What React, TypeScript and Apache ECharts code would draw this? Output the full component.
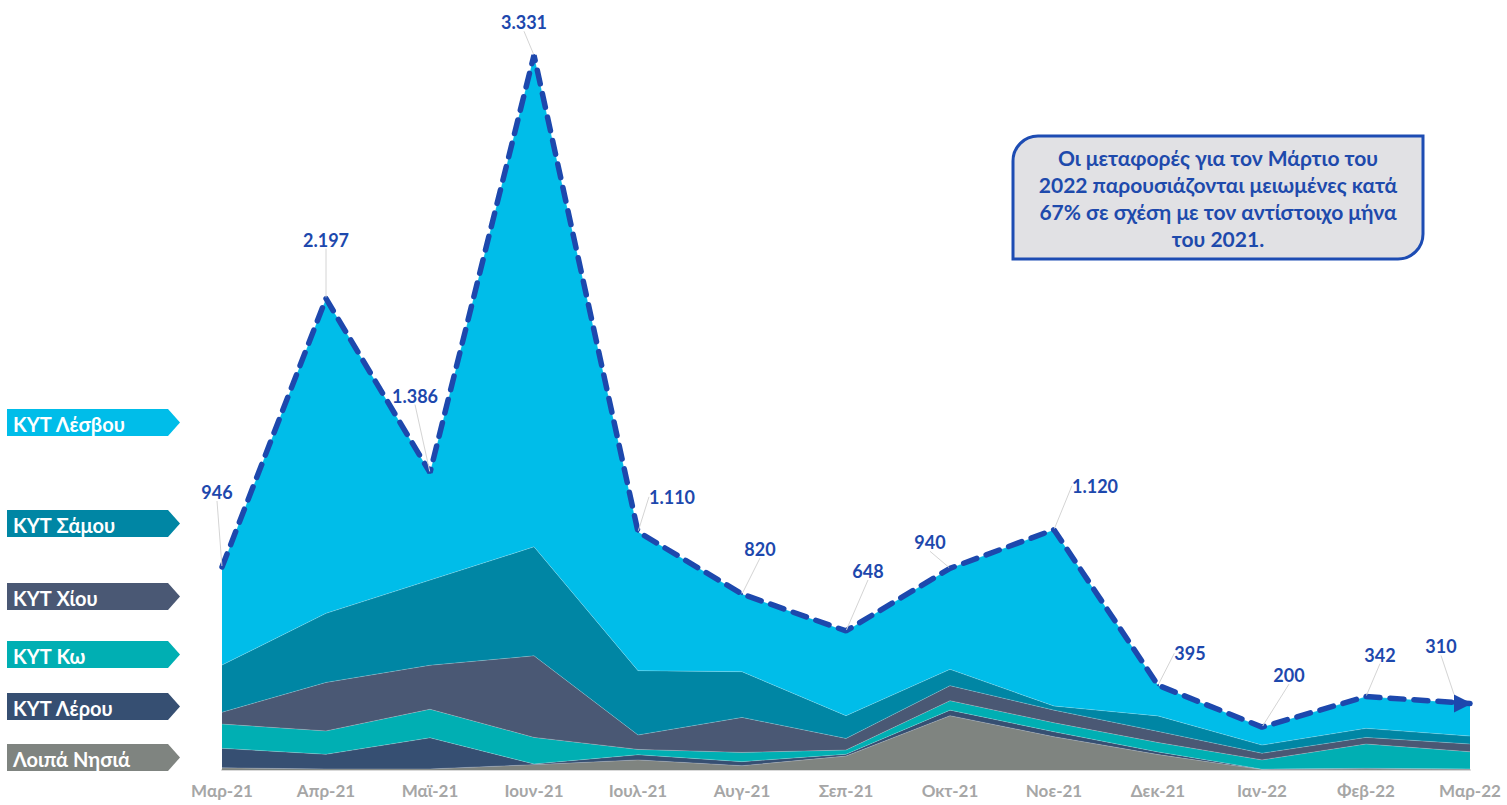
import React, { useEffect, useRef } from "react";
import * as echarts from "echarts";

const months = ["Μαρ-21", "Απρ-21", "Μαϊ-21", "Ιουν-21", "Ιουλ-21", "Αυγ-21", "Σεπ-21", "Οκτ-21", "Νοε-21", "Δεκ-21", "Ιαν-22", "Φεβ-22", "Μαρ-22"];

const loipa = [10, 5, 5, 25, 47, 20, 65, 253, 155, 72, 2, 5, 3];
const lerou = [91, 68, 145, 3, 24, 19, 8, 26, 23, 12, 2, 3, 2];
const ko = [113, 109, 133, 124, 25, 43, 20, 44, 42, 44, 43, 113, 80];
const chiou = [55, 226, 205, 380, 67, 163, 54, 70, 59, 52, 31, 31, 36];
const samou = [220, 322, 397, 508, 300, 213, 106, 76, 19, 72, 38, 42, 37];
const lesvou = [457, 1467, 501, 2291, 647, 362, 395, 471, 822, 143, 84, 148, 152];
const totals = [946, 2197, 1386, 3331, 1110, 820, 648, 940, 1120, 395, 200, 342, 310];

const seriesNames = ["Λοιπά Νησιά", "ΚΥΤ Λέρου", "ΚΥΤ Κω", "ΚΥΤ Χίου", "ΚΥΤ Σάμου", "ΚΥΤ Λέσβου"];
const seriesData = [loipa, lerou, ko, chiou, samou, lesvou];
const seriesColors = ["#7F8480", "#364F72", "#00AFB3", "#4A5874", "#0086A4", "#00BDE9"];

const calloutLines = [
  "Οι μεταφορές για τον Μάρτιο του",
  "2022 παρουσιάζονται μειωμένες κατά",
  "67% σε σχέση με τον αντίστοιχο μήνα",
  "του 2021.",
];

// layout (styles / positions, not data)
const legendTops = [744, 693, 641, 583, 510, 409];
const labelOffsets: [number, number][] = [
  [-5, -60], [0, -44], [-15, -62], [-10, -18], [34, -20], [18, -30], [22, -45],
  [-20, -11], [41, -29], [32, -17], [27, -37], [14, -27], [-22, -34],
];

const FONT = "Lato, 'Noto Sans', sans-serif";
const BLUE = "#1D48AD";

function fmt(v: number): string {
  return String(v).replace(/\B(?=(\d{3})+(?!\d))/g, ".");
}

export default function App() {
  const ref = useRef<HTMLDivElement>(null);
  useEffect(() => {
    document.body.style.margin = "0";
    const chart = echarts.init(ref.current!, null, { renderer: "svg" });

    const areaSeries = seriesNames.map((name, i) => ({
      name,
      type: "line",
      stack: "total",
      data: seriesData[i],
      symbol: "none",
      lineStyle: { width: 0.6, color: "rgba(255,255,255,0.35)" },
      areaStyle: { color: seriesColors[i], opacity: 1 },
      itemStyle: { color: seriesColors[i] },
      z: 2,
    }));

    const totalData = totals.map((v, i) =>
      i === totals.length - 1
        ? { value: v, symbol: "triangle", symbolSize: [18, 18], symbolRotate: -90, symbolOffset: [-7, 0] }
        : { value: v }
    );

    const legendGraphics: any[] = [];
    seriesNames.forEach((name, i) => {
      const top = legendTops[i];
      const h = 27;
      legendGraphics.push({
        type: "polygon",
        shape: { points: [[7, top], [168, top], [180, top + h / 2], [168, top + h], [7, top + h]] },
        style: { fill: seriesColors[i] },
      });
      legendGraphics.push({
        type: "text",
        x: 13,
        y: top + h / 2 + 1,
        style: {
          text: name,
          fill: "#FFFFFF",
          font: `bold 20px ${FONT}`,
          verticalAlign: "middle",
          textAlign: "left",
        },
      });
    });

    chart.setOption({
      animation: false,
      grid: { left: 222, right: 37, top: 19, bottom: 35, containLabel: false },
      xAxis: {
        type: "category",
        data: months,
        boundaryGap: false,
        axisLine: { show: true, lineStyle: { color: "#D9D9D9", width: 2 } },
        axisTick: { show: false },
        axisLabel: { color: "#A6A6A6", fontWeight: "bold", fontSize: 17, fontFamily: FONT, margin: 12, interval: 0 },
        splitLine: { show: false },
      },
      yAxis: { type: "value", min: 0, max: 3500, show: false, splitLine: { show: false } },
      series: [
        ...areaSeries,
        {
          name: "Σύνολο",
          type: "line",
          data: totalData,
          symbol: "circle",
          symbolSize: 2,
          showSymbol: true,
          itemStyle: { color: BLUE },
          lineStyle: { color: BLUE, width: 5.5, type: [14, 10], cap: "round" },
          z: 5,
          label: {
            show: true,
            position: "top",
            formatter: (p: any) => fmt(p.value),
            color: BLUE,
            fontWeight: "bold",
            fontSize: 18,
            fontFamily: FONT,
          },
          labelLine: { show: true, lineStyle: { color: "#D4D4D4", width: 1 } },
          labelLayout: (params: any) => {
            const o = labelOffsets[params.dataIndex] || [0, 0];
            return { dx: o[0], dy: o[1] };
          },
        },
      ],
      graphic: [
        ...legendGraphics,
        {
          type: "rect",
          shape: { x: 1013, y: 136, width: 410, height: 123, r: [25, 0, 25, 0] },
          style: { fill: "#E1E1E4", stroke: "#1D4CB3", lineWidth: 3 },
          z: 10,
        },
        {
          type: "text",
          x: 1218,
          y: 198,
          z: 11,
          style: {
            text: calloutLines.join("\n"),
            fill: "#1E4AAC",
            font: `bold 21px ${FONT}`,
            textAlign: "center",
            verticalAlign: "middle",
            lineHeight: 27,
          },
        },
      ],
    });
    return () => chart.dispose();
  }, []);
  return <div ref={ref} style={{ width: 1507, height: 805 }} />;
}
